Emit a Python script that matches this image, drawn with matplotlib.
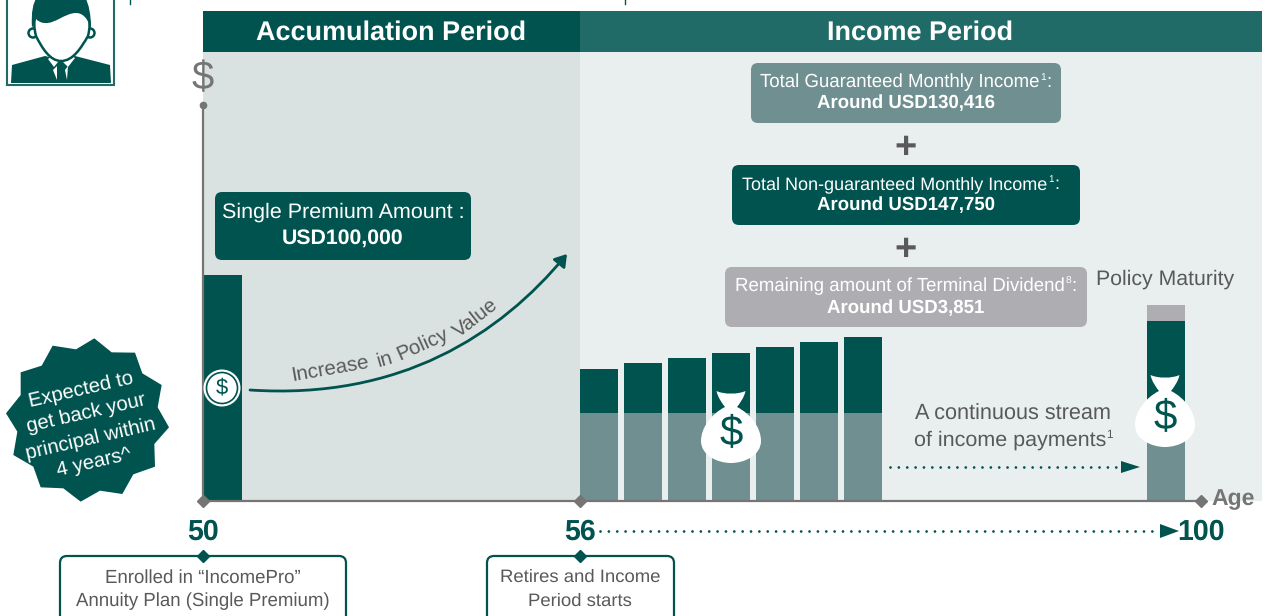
import matplotlib
matplotlib.use("Agg")
import numpy as np
import matplotlib.pyplot as plt
from matplotlib.patches import FancyBboxPatch, Polygon, Circle, PathPatch, Rectangle, FancyArrowPatch
from matplotlib.path import Path

plt.rcParams['font.family'] = ['Liberation Sans', 'DejaVu Sans']
plt.rcParams['text.hinting'] = 'no_hinting'

DARK = '#00534e'
HEADER2 = '#206b68'
TEAL = '#6f8f90'
GREY = '#aeaeb2'
TXT = '#595959'
AXIS = '#757575'

# bar heights above the baseline
income_lefts = [580, 624, 668, 712, 756, 800, 844]
income_guaranteed = [88, 88, 88, 88, 88, 88, 88]
income_nonguaranteed = [44, 50, 55, 60, 66, 71, 76]
maturity_left = [1147]
maturity_guaranteed = [88]
maturity_nonguaranteed = [92]
maturity_dividend = [16]
premium_left = [203]
premium_height = [226]
BAR_W = 38
BASE = 501

age_labels = ['50', '56', '100']
age_x = [203, 580, 1201]

burst = [(283,55),(335,97),(405,98),(427,160),(485,195),(473,262),(507,322),(463,372),
         (465,440),(400,463),(367,522),(300,512),(242,545),(190,505),(122,502),(100,440),
         (40,405),(52,335),(18,280),(62,225),(62,157),(125,137),(158,77),(228,88)]


def px(size):
    return size * 0.72


def label(ax, x, y, s, color=TXT, size=20, weight='normal', ha='center', z=5, **kw):
    return ax.text(x, y + 1.5, s, color=color, fontsize=px(size), fontweight=weight,
                   ha=ha, va='center', zorder=z, **kw)


def sup_line(ax, cx, y, before, sup, after, color, size):
    # line of text with a small superscript, centred as a whole
    rend = ax.figure.canvas.get_renderer()
    parts = [label(ax, 0, y, before, color, size, ha='left'),
             label(ax, 0, y - size * 0.27, sup, color, size * 0.55, ha='left'),
             label(ax, 0, y, after, color, size, ha='left')]
    widths = [p.get_window_extent(rend).width for p in parts]
    x = cx - sum(widths) / 2
    for p, w in zip(parts, widths):
        p.set_x(x)
        x += w + 0.5


def box(ax, x0, y0, x1, y1, face, edge='none', lw=0, r=7):
    ax.add_patch(FancyBboxPatch((x0 + r, y0 + r), x1 - x0 - 2 * r, y1 - y0 - 2 * r,
                                boxstyle=f'round,pad={r},rounding_size={r}',
                                fc=face, ec=edge, lw=lw, zorder=4))


def dollar(ax, x, y, size, color, z=6):
    ax.text(x, y, '$', color=color, fontsize=px(size), ha='center', va='center', zorder=z)


def money_bag(ax, cx, top):
    verts = [(-14.5, 0), (-7, 3.5), (7, 3.5), (14.5, 0),
             (13, 7), (9, 12), (6, 16),
             (20, 23), (30, 37), (30, 50),
             (30, 64), (14, 72), (0, 72),
             (-14, 72), (-30, 64), (-30, 50),
             (-30, 37), (-20, 23), (-6, 16),
             (-9, 12), (-13, 7), (-14.5, 0)]
    codes = [Path.MOVETO] + [Path.CURVE4] * 21
    verts = [(cx + a, top + b) for a, b in verts]
    ax.add_patch(PathPatch(Path(verts, codes), fc='white', ec='none', zorder=5))
    dollar(ax, cx, top + 43, 42, DARK)


def man_icon(ax):
    ax.add_patch(Rectangle((6.5, -5), 107, 90, fc='white', ec=HEADER2, lw=1.5, zorder=2))
    ax.add_patch(Polygon([(11, 83), (12, 65), (45, 56), (61, 60), (75, 56), (110, 65), (111, 83)],
                         fc=DARK, ec='none', zorder=3))
    ax.add_patch(Polygon([(48, 59), (54, 67), (58, 62), (63, 62), (68, 67), (75, 58), (61, 50)],
                         fc='white', ec='none', zorder=3))
    ax.add_patch(Polygon([(53, 70), (57, 66), (57, 80)], fc='white', ec='none', zorder=3))
    ax.add_patch(Polygon([(65, 70), (68, 66), (67, 80)], fc='white', ec='none', zorder=3))
    for ex in (33, 90):
        ax.add_patch(Circle((ex, 33), 4.5, fc='white', ec=DARK, lw=1.8, zorder=3))
    head = Path([(36, 36), (42, 48), (50, 61), (61, 61), (73, 61), (81, 48), (88, 36),
                 (92, 20), (90, 5), (61, 5), (33, 5), (32, 20), (36, 36)],
                [Path.MOVETO] + [Path.CURVE4] * 12)
    ax.add_patch(PathPatch(head, fc='white', ec=DARK, lw=1.8, zorder=3))
    hair = Path([(32, 28), (31, 12), (33, 3), (37, -3), (85, -3), (91, 8), (91, 28),
                 (87, 17), (82, 13), (76, 13), (65, 13), (55, 24), (45, 23), (41, 23), (38, 21), (36, 19),
                 (32, 28)],
                [Path.MOVETO, Path.CURVE4, Path.CURVE4, Path.CURVE4, Path.LINETO, Path.CURVE3, Path.CURVE3,
                 Path.CURVE4, Path.CURVE4, Path.CURVE4, Path.CURVE4, Path.CURVE4, Path.CURVE4,
                 Path.CURVE4, Path.CURVE4, Path.CURVE4, Path.LINETO])
    ax.add_patch(PathPatch(hair, fc=DARK, ec='none', zorder=3))


fig = plt.figure(figsize=(12.65, 6.16), dpi=100)
fig.canvas.draw()
ax = fig.add_axes([0, 0, 1, 1])
ax.set_xlim(0, 1265)
ax.set_ylim(616, 0)
ax.axis('off')

# panels
ax.add_patch(Rectangle((203, 52), 377, BASE - 52, fc='#d9e2e1', ec='none', zorder=0))
ax.add_patch(Rectangle((580, 52), 682, BASE - 52, fc='#e9efef', ec='none', zorder=0))
ax.add_patch(Rectangle((203, 11), 377, 41, fc=DARK, ec='none', zorder=1))
ax.add_patch(Rectangle((580, 11), 682, 41, fc=HEADER2, ec='none', zorder=1))
label(ax, 391, 31, 'Accumulation Period', 'white', 27, 'bold', z=2)
label(ax, 920, 31, 'Income Period', 'white', 27, 'bold', z=2)

# bracket stubs cut by the top edge
ax.plot([130, 130], [0, 4], color=DARK, lw=1, zorder=2)
ax.plot([625, 625], [0, 4], color=DARK, lw=1, zorder=2)

# bars
income_lefts_a = np.array(income_lefts)
g = np.array(income_guaranteed)
n = np.array(income_nonguaranteed)
ax.bar(income_lefts_a, -g, width=BAR_W, bottom=BASE, align='edge', color=TEAL, zorder=2)
ax.bar(income_lefts_a, -n, width=BAR_W, bottom=BASE - g, align='edge', color=DARK, zorder=2)
mg = np.array(maturity_guaranteed)
mn = np.array(maturity_nonguaranteed)
md = np.array(maturity_dividend)
ax.bar(maturity_left, -mg, width=BAR_W, bottom=BASE, align='edge', color=TEAL, zorder=2)
ax.bar(maturity_left, -mn, width=BAR_W, bottom=BASE - mg, align='edge', color=DARK, zorder=2)
ax.bar(maturity_left, -md, width=BAR_W, bottom=BASE - mg - mn, align='edge', color=GREY, zorder=2)
ax.bar(premium_left, -np.array(premium_height), width=BAR_W + 1, bottom=BASE, align='edge', color=DARK, zorder=2)

# axes lines
ax.plot([203, 203], [105, BASE], color=AXIS, lw=1.6, zorder=3)
ax.plot([203, 1200], [BASE, BASE], color=AXIS, lw=1.6, zorder=3)
ax.plot([203], [105], 'o', color=AXIS, ms=4.5, zorder=3)
ax.plot([203, 580, 1201], [BASE] * 3, 'D', color=AXIS, ms=6, zorder=4)
dollar(ax, 203, 79, 40, AXIS, z=3)
label(ax, 1211, 498, 'Age', AXIS, 23, 'bold', ha='left', z=3)

# income boxes
box(ax, 751, 63, 1061, 123, TEAL)
sup_line(ax, 905.5, 81, 'Total Guaranteed Monthly Income', '1', ':', 'white', 18.7)
label(ax, 906, 102, 'Around USD130,416', 'white', 18.7, 'bold')
box(ax, 732, 165, 1080, 225, DARK)
sup_line(ax, 900, 183, 'Total Non-guaranteed Monthly Income', '1', ':', 'white', 18)
label(ax, 906, 204, 'Around USD147,750', 'white', 18.7, 'bold')
box(ax, 725, 267, 1087, 327, GREY)
sup_line(ax, 905.5, 285, 'Remaining amount of Terminal Dividend', '8', ':', 'white', 18.7)
label(ax, 906, 307, 'Around USD3,851', 'white', 18.7, 'bold')
for py in (147, 249):
    label(ax, 906, py, '+', TXT, 38, 'bold')

box(ax, 215, 192, 471, 260, DARK)
label(ax, 343, 211, 'Single Premium Amount :', 'white', 21.5)
label(ax, 343, 237, 'USD100,000', 'white', 21.3, 'bold')

# coin
ax.add_patch(Circle((222, 388), 18.5, fc='white', ec='none', zorder=5))
ax.add_patch(Circle((222, 388), 15.5, fc='white', ec=DARK, lw=1.2, zorder=5))
dollar(ax, 222, 388, 22, DARK)

# curved arrow
curve = Path([(250, 390), (400, 400), (500, 335), (567, 254)],
             [Path.MOVETO, Path.CURVE4, Path.CURVE4, Path.CURVE4])
ax.add_patch(FancyArrowPatch(path=curve, arrowstyle='-|>,head_length=7,head_width=4.5',
                             color=DARK, lw=2, zorder=4, shrinkA=0, shrinkB=0))
for word, wx, wy, rot in [('Increase', 330, 367, 10), ('in', 385, 358, 16),
                          ('Policy', 423, 343, 24), ('Value', 476, 317, 38)]:
    label(ax, wx, wy, word, TXT, 20.5, z=4, rotation=rot, rotation_mode='anchor')

# burst
bx = [p[0] / 3 for p in burst]
by = [320 + p[1] / 3 for p in burst]
ax.add_patch(Polygon(list(zip(bx, by)), fc=DARK, ec='none', zorder=3))
for line, tx, ty in [('Expected to', 81, 388), ('get back your', 86, 412),
                     ('principal within', 91, 437), ('4 years^', 94, 461)]:
    label(ax, tx, ty, line, 'white', 20.3, z=4, rotation=13, rotation_mode='anchor')

# bags
money_bag(ax, 731, 391)
money_bag(ax, 1165, 375)

label(ax, 1165, 278, 'Policy Maturity', TXT, 21.3, z=4)
label(ax, 1013, 413, 'A continuous stream', TXT, 21.7, z=4)
sup_line(ax, 1013, 439, 'of income payments', '1', '', TXT, 21.5)

# dotted arrows
ax.plot([890, 1122], [467, 467], color=DARK, lw=2, ls=(0, (0.01, 3)), dash_capstyle='round', zorder=4)
ax.add_patch(Polygon([(1121, 461), (1140, 467), (1121, 473)], fc=DARK, ec='none', zorder=4))
ax.plot([600, 1160], [531, 531], color=DARK, lw=2, ls=(0, (0.01, 3)), dash_capstyle='round', zorder=4)
ax.add_patch(Polygon([(1160, 524), (1179, 531), (1160, 538)], fc=DARK, ec='none', zorder=4))

for lab, ax_x in zip(age_labels, age_x):
    label(ax, ax_x, 531, lab, DARK, 28.5, 'bold')

# bottom boxes
box(ax, 60, 556, 346, 640, 'white', edge=DARK, lw=1.6)
ax.plot([203], [556], 'D', color=DARK, ms=6, zorder=5)
label(ax, 203, 576, 'Enrolled in “IncomePro”', TXT, 18.7)
label(ax, 203, 600, 'Annuity Plan (Single Premium)', TXT, 18.7)
box(ax, 487, 556, 674, 640, 'white', edge=DARK, lw=1.6)
ax.plot([580], [556], 'D', color=DARK, ms=6, zorder=5)
label(ax, 580, 576, 'Retires and Income', TXT, 18.5)
label(ax, 580, 600, 'Period starts', TXT, 18.5)

man_icon(ax)

fig.savefig('out.png', dpi=100)
